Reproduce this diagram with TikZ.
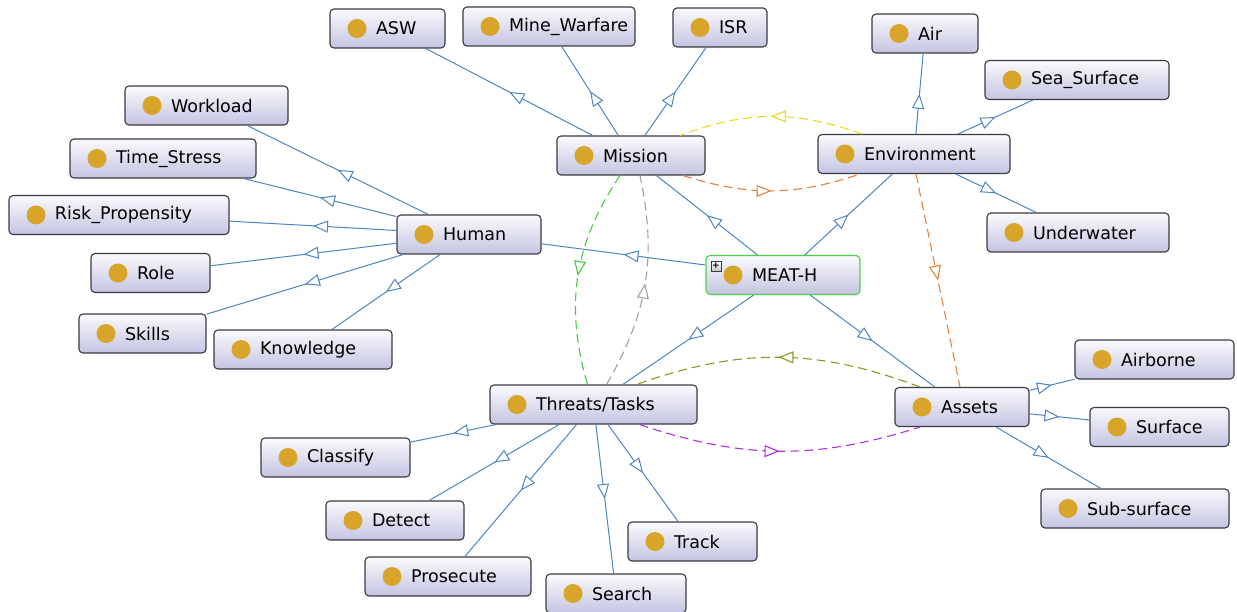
\documentclass[tikz,border=0pt]{standalone}
\usepackage{fontspec}
\setmainfont{DejaVu Sans}
\usetikzlibrary{arrows.meta,decorations.markings}
\definecolor{edgeblue}{RGB}{74,134,196}
\definecolor{boxline}{RGB}{58,58,66}
\definecolor{boxtop}{RGB}{250,250,253}
\definecolor{boxbot}{RGB}{196,196,226}
\definecolor{gold}{RGB}{216,164,42}
\definecolor{meatgreen}{RGB}{70,214,70}
\definecolor{relyellow}{RGB}{240,216,30}
\definecolor{relorange}{RGB}{232,128,58}
\definecolor{relgreen}{RGB}{64,208,64}
\definecolor{relgray}{RGB}{160,160,160}
\definecolor{relolive}{RGB}{138,154,32}
\definecolor{relpurple}{RGB}{176,48,224}
\tikzset{
  cls/.style   = {draw=boxline, line width=1.1pt, rounded corners=4pt,
                  top color=boxtop, bottom color=boxbot, minimum height=39pt,
                  inner xsep=0pt, text width=#1, align=left,
                  font=\fontsize{17.5}{20}\selectfont,
                  execute at begin node={\hspace*{46pt}},
                  path picture={\fill[gold] ([xshift=27pt]path picture bounding box.west) circle (9.5pt);}},
  isa/.style   = {draw=edgeblue, line width=1pt, postaction={decorate},
                  decoration={markings, mark=at position 0.5 with
                    {\arrow{Triangle[length=15pt,width=12pt,fill=white]}}}},
  rel/.style   = {draw=#1, line width=1.1pt, dash pattern=on 9pt off 5pt, postaction={decorate},
                  decoration={markings, mark=at position 0.5 with
                    {\arrow{Triangle[length=15pt,width=12pt,fill=white]}}}},
}
\begin{document}
\begin{tikzpicture}[x=1pt,y=-1pt]
  \useasboundingbox (0,0) rectangle (1237,612);
  % root
  \node[cls=154pt, draw=meatgreen] (meat) at (783,275) {MEAT-H};
  \node[draw=boxline, top color=white, bottom color=gray!45, minimum size=10pt, inner sep=0pt,
        font=\bfseries\small] (expand) at (716,266) {+};
  % top level
  \node[cls=144pt] (hum) at (469,234.5) {Human};
  \node[cls=148pt] (mis) at (631,155.5) {Mission};
  \node[cls=192pt] (env) at (914,154) {Environment};
  \node[cls=207pt] (thr) at (593.5,404.5) {Threats/Tasks};
  \node[cls=134pt] (ast) at (962,407) {Assets};
  % human
  \node[cls=163pt] (work) at (206.5,105.5) {Workload};
  \node[cls=186pt] (time) at (163,158.5) {Time\_Stress};
  \node[cls=220pt] (risk) at (119,215) {Risk\_Propensity};
  \node[cls=119pt] (role) at (150.5,273) {Role};
  \node[cls=127pt] (skill) at (142.5,333.5) {Skills};
  \node[cls=178pt] (know) at (303,349.5) {Knowledge};
  % mission
  \node[cls=115pt] (asw) at (387.5,28.5) {ASW};
  \node[cls=172pt] (mine) at (549,26.5) {Mine\_Warfare};
  \node[cls=94pt] (isr) at (720,27.5) {ISR};
  % environment
  \node[cls=106pt] (air) at (925,33.5) {Air};
  \node[cls=184pt] (sea) at (1077,80) {Sea\_Surface};
  \node[cls=182pt] (under) at (1078,232.5) {Underwater};
  % assets
  \node[cls=159pt] (airb) at (1154.5,359.5) {Airborne};
  \node[cls=139pt] (surf) at (1159.5,427) {Surface};
  \node[cls=188pt] (sub) at (1135,508.5) {Sub-surface};
  % threats/tasks
  \node[cls=149pt] (clas) at (335.5,457.5) {Classify};
  \node[cls=138pt] (det) at (395,520.5) {Detect};
  \node[cls=166pt] (pros) at (448,576.5) {Prosecute};
  \node[cls=140pt] (srch) at (616,593.5) {Search};
  \node[cls=129pt] (track) at (692.5,541.5) {Track};
  % subclass links
  \foreach \a/\b in {meat/hum, meat/mis, meat/env, meat/thr, meat/ast,
                     hum/work, hum/time, hum/risk, hum/role, hum/skill, hum/know,
                     mis/asw, mis/mine, mis/isr, env/air, env/sea, env/under,
                     ast/airb, ast/surf, ast/sub,
                     thr/clas, thr/det, thr/pros, thr/srch, thr/track}
    \draw[isa] (\a) -- (\b);
  % object properties
  \draw[rel=relyellow] ([xshift=-52pt]env.north) to[bend right=20] ([xshift=49pt]mis.north);
  \draw[rel=relorange] ([xshift=52pt]mis.south) to[bend right=18] ([xshift=-54pt]env.south);
  \draw[rel=relorange] ([xshift=2pt]env.south) -- ([xshift=-2pt]ast.north);
  \draw[rel=relgreen] ([xshift=-11pt]mis.south) to[bend right=25] ([xshift=-6pt]thr.north);
  \draw[rel=relgray] ([xshift=13pt]thr.north) to[bend right=21] ([xshift=9pt]mis.south);
  \draw[rel=relolive] ([xshift=-42pt]ast.north) to[bend right=20] ([xshift=43pt]thr.north);
  \draw[rel=relpurple] ([xshift=46pt]thr.south) to[bend right=18] ([xshift=-42pt]ast.south);
\end{tikzpicture}
\end{document}
